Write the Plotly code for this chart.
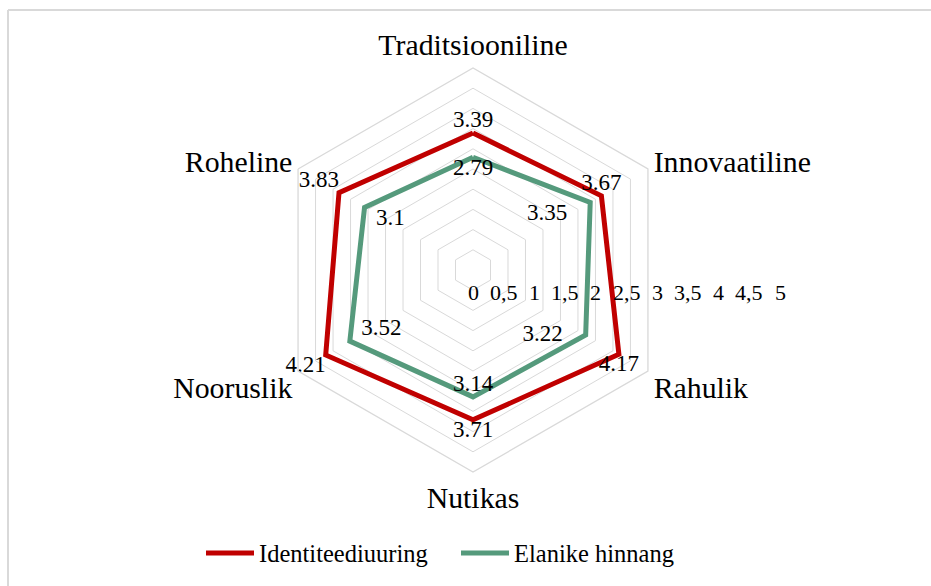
import plotly.graph_objects as go

categories = ["Traditsiooniline", "Innovaatiline", "Rahulik", "Nutikas", "Nooruslik", "Roheline"]
identiteet = [3.39, 3.67, 4.17, 3.71, 4.21, 3.83]
elanikud = [2.79, 3.35, 3.22, 3.14, 3.52, 3.1]
tick_vals = [0, 0.5, 1, 1.5, 2, 2.5, 3, 3.5, 4, 4.5, 5]
tick_text = ["0", "0,5", "1", "1,5", "2", "2,5", "3", "3,5", "4", "4,5", "5"]

RED = "#C00000"
GREEN = "#559A7C"
FONT = "Liberation Serif, Times New Roman, serif"

W, H = 931, 586
cx, cy, R = 473, 270, 202

fig = go.Figure()

def closed(v):
    return v + v[:1]

NB = "\u00a0"
red_pos = ["top center", "top center", "bottom center", "bottom center", "bottom left", "top left"]
green_pos = ["bottom center", "bottom left", "middle left", "top center", "top right", "bottom right"]
# padding (non-breaking spaces) before / after each green label
green_pad = [(0, 0), (0, 4), (0, 4), (0, 0), (2, 0), (2, 0)]

red_text = [str(v) for v in identiteet]
green_text = [NB * a + str(v) + NB * b for v, (a, b) in zip(elanikud, green_pad)]

fig.add_trace(go.Scatterpolar(
    r=closed(identiteet), theta=closed(categories), name="Identiteediuuring",
    mode="lines+text", line=dict(color=RED, width=5),
    text=red_text + [""],
    textposition=red_pos + ["top center"],
    textfont=dict(family=FONT, size=23, color="#000000"),
    cliponaxis=False, hoverinfo="skip",
))
fig.add_trace(go.Scatterpolar(
    r=closed(elanikud), theta=closed(categories), name="Elanike hinnang",
    mode="lines+text", line=dict(color=GREEN, width=5),
    text=green_text + [""],
    textposition=green_pos + ["top center"],
    textfont=dict(family=FONT, size=23, color="#000000"),
    cliponaxis=False, hoverinfo="skip",
))

fig.update_layout(
    width=W, height=H,
    margin=dict(l=0, r=0, t=0, b=0, pad=0, autoexpand=False),
    paper_bgcolor="white",
    font=dict(family=FONT, color="#000000"),
    polar=dict(
        domain=dict(x=[(cx - R) / W, (cx + R) / W], y=[(H - cy - R) / H, (H - cy + R) / H]),
        gridshape="linear",
        bgcolor="rgba(0,0,0,0)",
        radialaxis=dict(range=[0, 5], tickvals=tick_vals, showticklabels=False,
                        showline=False, ticks="", gridcolor="#d9d9d9", gridwidth=1.3),
        angularaxis=dict(rotation=90, direction="clockwise", showgrid=False,
                         showline=True, linecolor="#d9d9d9", linewidth=1.3, ticks="",
                         tickfont=dict(family=FONT, size=29.8, color="#000000")),
    ),
    legend=dict(orientation="h", x=201 / W, y=(H - 553) / H, xanchor="left", yanchor="middle",
                font=dict(family=FONT, size=24.5, color="#000000"), itemwidth=48,
                entrywidth=192, bgcolor="rgba(0,0,0,0)"),
    showlegend=True,
)

# radial tick labels placed along the horizontal, as in the reference
for i, t in enumerate(tick_text):
    fig.add_annotation(x=(cx + i * 30.7) / W, y=(H - 292) / H, xref="paper", yref="paper",
                       text=t, showarrow=False, xanchor="center", yanchor="middle",
                       font=dict(family=FONT, size=22, color="#000000"))

# chart border (top and left edges visible)
fig.add_shape(type="line", xref="paper", yref="paper", x0=8 / W, x1=1, y0=(H - 10) / H, y1=(H - 10) / H,
              line=dict(color="#d9d9d9", width=2))
fig.add_shape(type="line", xref="paper", yref="paper", x0=8 / W, x1=8 / W, y0=0, y1=(H - 10) / H,
              line=dict(color="#d9d9d9", width=2))

fig.write_html("out.html", config={"displayModeBar": False},
               post_script="document.body.style.margin='0px';")
